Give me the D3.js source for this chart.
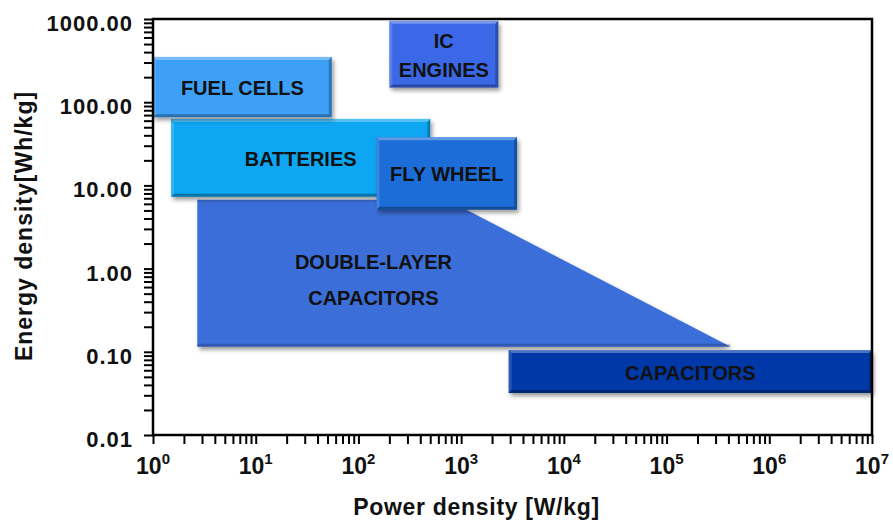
<!DOCTYPE html>
<html>
<head>
<meta charset="utf-8">
<script src="https://cdn.jsdelivr.net/npm/d3@7"></script>
<style>
  body { margin: 0; background: #fff; }
  text { font-family: "Liberation Sans", Arial, sans-serif; font-weight: bold; }
</style>
</head>
<body>
<div id="chart"></div>
<script>
// Ragone-style regions (W/kg, Wh/kg)
var boxNames  = ["CAPACITORS", "BATTERIES", "FUEL CELLS", "FLY WHEEL", "IC ENGINES"];
var powerLo   = [2900, 1.5, 1, 150, 200];
var powerHi   = [1e7, 500, 55, 3500, 2300];
var energyLo  = [0.032, 7.3, 66, 5.1, 150];
var energyHi  = [0.105, 63, 350, 38, 950];
var boxColors = ["#0638a8", "#0aa6f2", "#3d9ff5", "#1b6dd8", "#3a68e6"];

// double-layer capacitors: a trapezoid
var dlPower  = [2.7, 730, 420000, 2.7];
var dlEnergy = [6.7, 6.7, 0.115, 0.115];
var dlLabel  = [140, 0.73];

var xTickValues = [1, 10, 100, 1000, 1e4, 1e5, 1e6, 1e7];
var yTickValues = [0.01, 0.1, 1, 10, 100, 1000];
var yTickLabels = ["0.01", "0.10", "1.00", "10.00", "100.00", "1000.00"];

var width = 893, height = 523;
var margin = {top: 19, right: 21, bottom: 88, left: 153};

var x = d3.scaleLog().domain([1, 1e7]).range([margin.left, width - margin.right]);
var y = d3.scaleLog().domain([0.01, 1000]).range([height - margin.bottom, margin.top]);

var svg = d3.select("#chart").append("svg")
    .attr("width", width)
    .attr("height", height);

var defs = svg.append("defs");
var shadow = defs.append("filter").attr("id", "shadow")
    .attr("x", "-10%").attr("y", "-10%").attr("width", "130%").attr("height", "140%");
shadow.append("feDropShadow")
    .attr("dx", 2).attr("dy", 3).attr("stdDeviation", 2)
    .attr("flood-color", "#000").attr("flood-opacity", 0.4);

// minor + major ticks, 1..9 x 10^n
function logTicks(lo, hi) {
  var t = [];
  for (var e = Math.log10(lo); e < Math.log10(hi); e++) {
    for (var k = 1; k < 10; k++) t.push(k * Math.pow(10, e));
  }
  t.push(hi);
  return t;
}

var xAxis = d3.axisBottom(x).tickValues(logTicks(1, 1e7)).tickSize(9).tickFormat("");
var yAxis = d3.axisLeft(y).tickValues(logTicks(0.01, 1000)).tickSize(9).tickFormat("");

var gx = svg.append("g")
    .attr("transform", "translate(0," + y.range()[0] + ")")
    .call(xAxis);
var gy = svg.append("g")
    .attr("transform", "translate(" + x.range()[0] + ",0)")
    .call(yAxis);
gx.select(".domain").remove();
gy.select(".domain").remove();
gx.selectAll(".tick line").attr("stroke", "#000").attr("stroke-width", 2);
gy.selectAll(".tick line").attr("stroke", "#000").attr("stroke-width", 2);

// double-layer trapezoid
var dlPts = dlPower.map(function (p, i) { return [x(p), y(dlEnergy[i])]; });
svg.append("path")
    .attr("d", d3.line()(dlPts) + "Z")
    .attr("fill", "#3a6ed8")
    .attr("filter", "url(#shadow)");
svg.append("line")
    .attr("x1", dlPts[3][0]).attr("x2", dlPts[2][0])
    .attr("y1", dlPts[3][1] - 1.5).attr("y2", dlPts[2][1] - 1.5)
    .attr("stroke", "#000").attr("stroke-opacity", 0.18).attr("stroke-width", 3);

var dlText = svg.append("text")
    .attr("x", x(dlLabel[0]))
    .attr("y", y(dlLabel[1]))
    .attr("text-anchor", "middle")
    .attr("font-size", 20)
    .attr("fill", "#111");
dlText.append("tspan").attr("x", x(dlLabel[0])).attr("dy", -11).text("DOUBLE-LAYER");
dlText.append("tspan").attr("x", x(dlLabel[0])).attr("dy", 36).text("CAPACITORS");

// boxes with a little bevel
var b = 3;
boxNames.forEach(function (name, i) {
  var x0 = x(powerLo[i]), x1 = x(powerHi[i]),
      y0 = y(energyHi[i]), y1 = y(energyLo[i]);
  var g = svg.append("g");
  g.append("rect")
      .attr("x", x0).attr("y", y0)
      .attr("width", x1 - x0).attr("height", y1 - y0)
      .attr("fill", boxColors[i])
      .attr("filter", "url(#shadow)");
  var bevels = [
    {pts: [[x0, y0], [x1, y0], [x1 - b, y0 + b], [x0 + b, y0 + b]], fill: "#fff", op: 0.3},
    {pts: [[x0, y0], [x0 + b, y0 + b], [x0 + b, y1 - b], [x0, y1]], fill: "#fff", op: 0.15},
    {pts: [[x0, y1], [x0 + b, y1 - b], [x1 - b, y1 - b], [x1, y1]], fill: "#000", op: 0.3},
    {pts: [[x1, y0], [x1, y1], [x1 - b, y1 - b], [x1 - b, y0 + b]], fill: "#000", op: 0.25}
  ];
  g.selectAll("path.bevel").data(bevels).enter().append("path")
      .attr("class", "bevel")
      .attr("d", function (d) { return d3.line()(d.pts) + "Z"; })
      .attr("fill", function (d) { return d.fill; })
      .attr("fill-opacity", function (d) { return d.op; });

  var cx = (x0 + x1) / 2, cy = (y0 + y1) / 2;
  var lines = name === "IC ENGINES" ? ["IC", "ENGINES"] : [name];
  var t = g.append("text")
      .attr("text-anchor", "middle")
      .attr("font-size", 20)
      .attr("fill", "#111");
  lines.forEach(function (l, j) {
    t.append("tspan")
        .attr("x", cx)
        .attr("y", cy + 8 + (j - (lines.length - 1) / 2) * 29)
        .text(l);
  });
});

// frame
svg.append("rect")
    .attr("x", x.range()[0]).attr("y", y.range()[1])
    .attr("width", x.range()[1] - x.range()[0])
    .attr("height", y.range()[0] - y.range()[1])
    .attr("fill", "none")
    .attr("stroke", "#000")
    .attr("stroke-width", 2.5);

// tick labels
svg.selectAll("text.ylab").data(yTickValues).enter().append("text")
    .attr("class", "ylab")
    .attr("x", 133)
    .attr("y", function (d) { return y(d) + 12; })
    .attr("text-anchor", "end")
    .attr("font-size", 22)
    .attr("letter-spacing", 1)
    .attr("fill", "#111")
    .text(function (d, i) { return yTickLabels[i]; });

var xl = svg.selectAll("text.xlab").data(xTickValues).enter().append("text")
    .attr("class", "xlab")
    .attr("x", function (d) { return x(d); })
    .attr("y", 474)
    .attr("text-anchor", "middle")
    .attr("font-size", 23)
    .attr("fill", "#111");
xl.append("tspan").text("10");
xl.append("tspan")
    .attr("font-size", 15)
    .attr("dy", -10)
    .text(function (d) { return Math.round(Math.log10(d)); });

// axis titles
svg.append("text")
    .attr("x", (x.range()[0] + x.range()[1]) / 2 - 36)
    .attr("y", 515)
    .attr("text-anchor", "middle")
    .attr("font-size", 23)
    .attr("letter-spacing", 0.7)
    .attr("fill", "#111")
    .text("Power density [W/kg]");

svg.append("text")
    .attr("transform", "translate(32," + 226 + ") rotate(-90)")
    .attr("text-anchor", "middle")
    .attr("font-size", 23)
    .attr("letter-spacing", 1)
    .attr("fill", "#111")
    .text("Energy density[Wh/kg]");
</script>
</body>
</html>
